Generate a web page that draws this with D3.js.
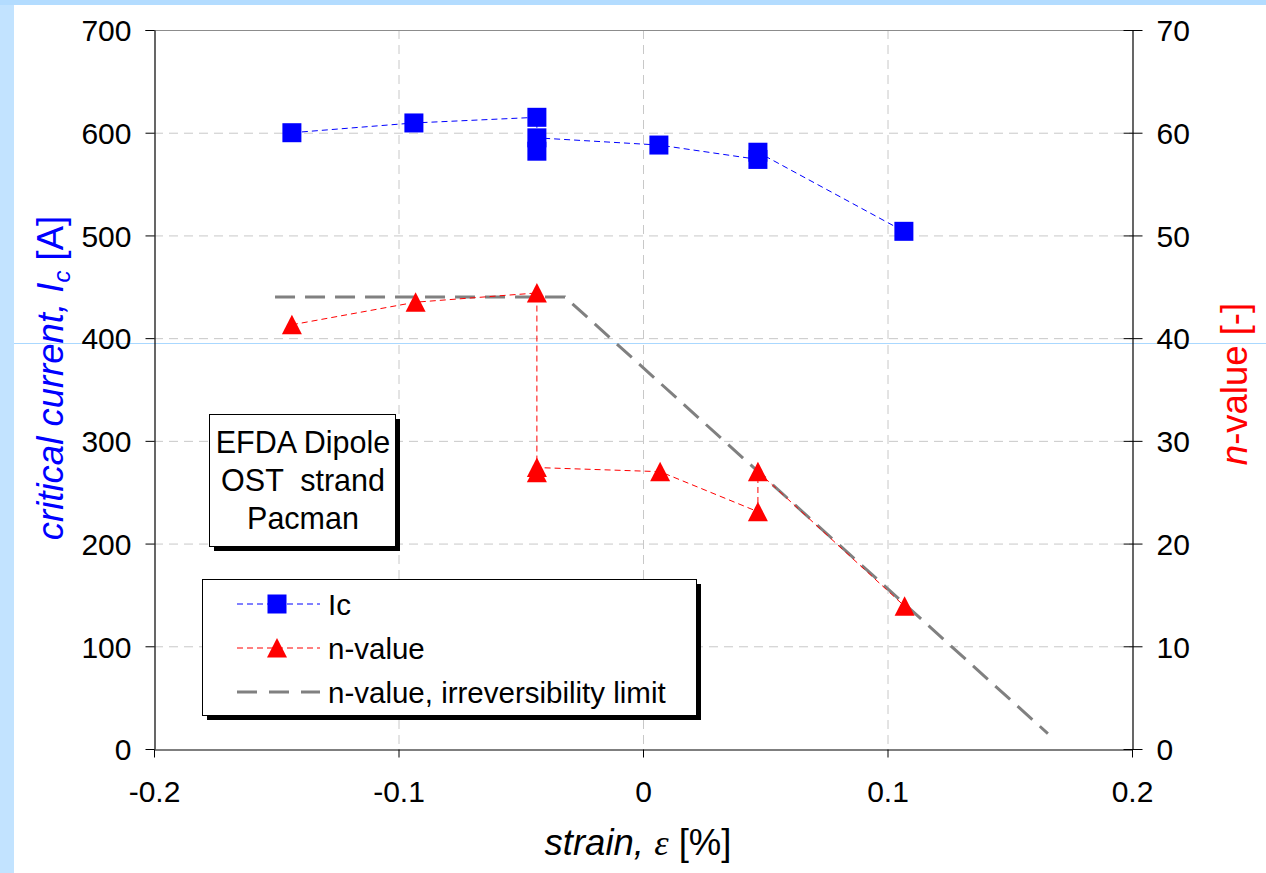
<!DOCTYPE html>
<html><head><meta charset="utf-8">
<script src="https://cdn.jsdelivr.net/npm/d3@7"></script>
<style>body{margin:0;background:#fff;overflow:hidden} text{font-family:"Liberation Sans",Arial,sans-serif}</style>
</head><body><svg id="c" width="1266" height="873"></svg>
<script>
// ---- data ----
const xTicks = [-0.2, -0.1, 0, 0.1, 0.2];
const xTickLabels = ["-0.2", "-0.1", "0", "0.1", "0.2"];
const yLeftTicks = [0, 100, 200, 300, 400, 500, 600, 700];
const yRightTicks = [0, 10, 20, 30, 40, 50, 60, 70];
const icStrain = [-0.1436, -0.0937, -0.0434, -0.0434, -0.0434, 0.0065, 0.0470, 0.0470, 0.1067];
const icValue  = [600, 609.5, 615, 582, 595, 588, 574, 581, 504];
const nStrain = [-0.1436, -0.0930, -0.0434, -0.0434, -0.0434, 0.0070, 0.0470, 0.0470, 0.1070];
const nValue  = [41.3, 43.5, 44.4, 26.9, 27.4, 27.0, 23.1, 27.0, 13.9];
const limitStrain = [-0.1505, -0.0319, 0.1656];
const limitValue  = [44.0, 44.0, 1.5];
const legendLabels = ["Ic", "n-value", "n-value, irreversibility limit"];
const noteLines = ["EFDA Dipole", "OST  strand", "Pacman"];

const svg = d3.select("#c");
// background accents
svg.append("rect").attr("x",0).attr("y",0).attr("width",1266).attr("height",873).attr("fill","#fff");
svg.append("rect").attr("x",0).attr("y",0).attr("width",14).attr("height",873).attr("fill","#c2e3ff");
svg.append("rect").attr("x",0).attr("y",0).attr("width",1266).attr("height",5).attr("fill","#b3dcff");
svg.append("line").attr("x1",14).attr("x2",1266).attr("y1",343.5).attr("y2",343.5).attr("stroke","#aad8ff").attr("stroke-width",1);

const L = 154, R = 1132, T = 30, B = 749;
const x = d3.scaleLinear().domain([-0.2, 0.2]).range([L, R]);
const yL = d3.scaleLinear().domain([0, 700]).range([B, T]);
const yR = d3.scaleLinear().domain([0, 70]).range([B, T]);

// grid
const g = svg.append("g");
g.selectAll(".hg").data(yLeftTicks.filter(v => v > 0 && v < 700)).enter().append("line")
  .attr("x1", L).attr("x2", R).attr("y1", d => yL(d)+0.5).attr("y2", d => yL(d)+0.5)
  .attr("stroke", "#c8c8c8").attr("stroke-width", 1).attr("stroke-dasharray", "9,6");
g.selectAll(".vg").data(xTicks.filter(v => v > -0.2 && v < 0.2)).enter().append("line")
  .attr("y1", T).attr("y2", B).attr("x1", d => x(d)+0.5).attr("x2", d => x(d)+0.5)
  .attr("stroke", "#c8c8c8").attr("stroke-width", 1).attr("stroke-dasharray", "9,6");
g.append("line").attr("x1", L-9).attr("x2", R).attr("y1", yL(700)+0.5).attr("y2", yL(700)+0.5)
  .attr("stroke", "#8c8c8c").attr("stroke-width", 1.2);

// axes
const fs = 30;
const axL = svg.append("g").attr("transform", `translate(${L+0.5},0)`)
  .call(d3.axisLeft(yL).tickValues(yLeftTicks).tickSize(9).tickSizeOuter(0).tickPadding(14));
const axR = svg.append("g").attr("transform", `translate(${R+0.5},0)`)
  .call(d3.axisRight(yR).tickValues(yRightTicks).tickSize(10).tickSizeOuter(0).tickPadding(14));
axR.selectAll(".tick line").attr("x1", -9);
const axB = svg.append("g").attr("transform", `translate(0,${B+0.5})`)
  .call(d3.axisBottom(x).tickValues(xTicks).tickFormat((d,i) => xTickLabels[i]).tickSize(8).tickSizeOuter(0).tickPadding(23));
[axL, axR, axB].forEach(a => {
  a.selectAll("path.domain").attr("stroke", "#000").attr("stroke-width", 1.2);
  a.selectAll(".tick line").attr("stroke", "#000").attr("stroke-width", 1);
  a.selectAll(".tick text").attr("font-size", fs).attr("fill", "#000")
    .attr("font-family", '"Liberation Sans", Arial, sans-serif');
});
axL.selectAll(".tick text").attr("dy", "0.36em");
axR.selectAll(".tick text").attr("dy", "0.36em");

// irreversibility limit
const limLine = d3.line().x(d => x(d[0])).y(d => yR(d[1]));
svg.append("path").datum(limitStrain.map((s,i) => [s, limitValue[i]]))
  .attr("d", limLine).attr("fill", "none").attr("stroke", "#808080")
  .attr("stroke-width", 3).attr("stroke-dasharray", "20,10");

// Ic series
const icData = icStrain.map((s,i) => [s, icValue[i]]);
svg.append("path").datum(icData)
  .attr("d", d3.line().x(d => x(d[0])).y(d => yL(d[1])))
  .attr("fill", "none").attr("stroke", "#0000ff").attr("stroke-width", 1).attr("stroke-dasharray", "6,4");
// n series
const nData = nStrain.map((s,i) => [s, nValue[i]]);
svg.append("path").datum(nData)
  .attr("d", d3.line().x(d => x(d[0])).y(d => yR(d[1])))
  .attr("fill", "none").attr("stroke", "#ff0000").attr("stroke-width", 1).attr("stroke-dasharray", "6,4");

const sq = 19;
svg.selectAll(".sq").data(icData).enter().append("rect")
  .attr("x", d => x(d[0]) - sq/2).attr("y", d => yL(d[1]) - sq/2)
  .attr("width", sq).attr("height", sq).attr("fill", "#0000ff");
const tri = "M0,-10L10,9.5L-10,9.5Z";
svg.selectAll(".tr").data(nData).enter().append("path")
  .attr("d", tri).attr("transform", d => `translate(${x(d[0])},${yR(d[1])})`).attr("fill", "#ff0000");

// note box
const nb = {x: 209, y: 414, w: 186, h: 132};
svg.append("rect").attr("x", nb.x+5).attr("y", nb.y+5).attr("width", nb.w).attr("height", nb.h).attr("fill", "#000");
svg.append("rect").attr("x", nb.x+0.5).attr("y", nb.y+0.5).attr("width", nb.w).attr("height", nb.h).attr("fill", "#fff").attr("stroke", "#000").attr("stroke-width", 1);
svg.selectAll(".nt").data(noteLines).enter().append("text")
  .attr("x", nb.x + nb.w/2 + 1).attr("y", (d,i) => 453 + i*38)
  .attr("text-anchor", "middle").attr("font-size", 30.5).attr("fill", "#000")
  .style("white-space", "pre").text(d => d);

// legend
const lg = {x: 202, y: 579, w: 494, h: 136};
svg.append("rect").attr("x", lg.x+5).attr("y", lg.y+5).attr("width", lg.w).attr("height", lg.h).attr("fill", "#000");
svg.append("rect").attr("x", lg.x+0.5).attr("y", lg.y+0.5).attr("width", lg.w).attr("height", lg.h).attr("fill", "#fff").attr("stroke", "#000").attr("stroke-width", 1);
const rowY = [604, 648, 692];
const lgStroke = ["#0000ff", "#ff0000", "#808080"];
const lgDash = ["6,4", "6,4", "20,12"];
const lgW = [1, 1, 3];
legendLabels.forEach((lab, i) => {
  svg.append("line").attr("x1", 237).attr("x2", 320).attr("y1", rowY[i]).attr("y2", rowY[i])
    .attr("stroke", lgStroke[i]).attr("stroke-width", lgW[i]).attr("stroke-dasharray", lgDash[i]);
  if (i === 0) svg.append("rect").attr("x", 277 - sq/2).attr("y", rowY[i] - sq/2).attr("width", sq).attr("height", sq).attr("fill", "#0000ff");
  if (i === 1) svg.append("path").attr("d", tri).attr("transform", `translate(277,${rowY[i]})`).attr("fill", "#ff0000");
  svg.append("text").attr("x", 328).attr("y", rowY[i] + 10.5).attr("font-size", 29.5).attr("fill", "#000").text(lab);
});

// axis titles
const tfs = 36.5;
const lt = svg.append("text").attr("transform", "translate(63,378) rotate(-90)")
  .attr("text-anchor", "middle").attr("font-size", tfs).attr("fill", "#0000ff");
lt.append("tspan").attr("font-style", "italic").text("critical current, I");
lt.append("tspan").attr("font-style", "italic").attr("font-size", 24).attr("dy", 7).text("c");
lt.append("tspan").attr("dy", -7).text(" [A]");

const rt = svg.append("text").attr("transform", "translate(1247,384) rotate(-90)")
  .attr("text-anchor", "middle").attr("font-size", tfs).attr("fill", "#ff0000");
rt.append("tspan").attr("font-style", "italic").text("n");
rt.append("tspan").text("-value [-]");

const xt = svg.append("text").attr("x", 638).attr("y", 855)
  .attr("text-anchor", "middle").attr("font-size", tfs).attr("fill", "#000");
xt.append("tspan").attr("font-style", "italic").text("strain, ");
xt.append("tspan").attr("font-style", "italic").attr("font-family", '"Liberation Serif", serif').text("ε");
xt.append("tspan").text(" [%]");
</script></body></html>
